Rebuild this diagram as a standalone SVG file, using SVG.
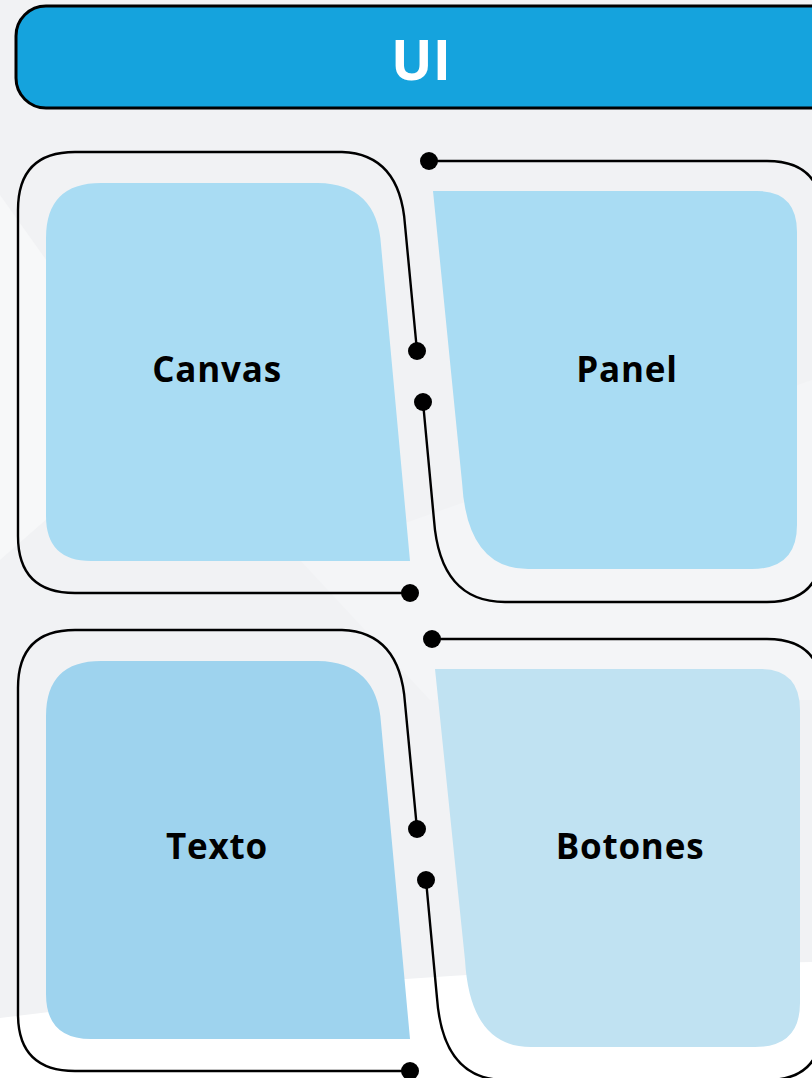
<svg xmlns="http://www.w3.org/2000/svg" width="812" height="1078" viewBox="0 0 812 1078">
  <defs>
    <style>
      .outline{fill:none;stroke:#000;stroke-width:2.4;stroke-linejoin:round}
      .dot{fill:#000}
      .lbl{font-family:"Open Sans","Noto Sans","Liberation Sans",sans-serif;font-weight:bold;font-size:35px;letter-spacing:0.8px;fill:#000;text-anchor:middle}
      .title{font-family:"Open Sans","Noto Sans","Liberation Sans",sans-serif;font-weight:bold;font-size:55px;fill:#fff;text-anchor:middle}
    </style>
  </defs>
  <!-- background -->
  <rect x="0" y="0" width="812" height="1078" fill="#f1f2f4"/>
  <path d="M0,195 L160,420 L0,560 Z" fill="#f7f8f9"/>
  <path d="M300,560 L812,380 L812,700 L430,700 Z" fill="#f4f5f7"/>
  <path d="M0,1018 Q400,968 812,962 V1078 H0 Z" fill="#ffffff"/>

  <!-- header -->
  <g id="header">
    <rect x="16" y="6" width="830" height="102" rx="30" fill="#15a3dd" stroke="#000" stroke-width="3"/>
    <text class="title" x="421" y="80">UI</text>
  </g>

  <!-- connectors -->
  <g id="connectors">
    <path class="outline" d="M410,593 H75 Q18,593 18,536 V210 Q18,152 75,152 H342 Q400,154 405,225 L417,351"/>
    <path class="outline" d="M429,161 H767 Q822,161 822,216 V546 Q822,602 767,602 H505 Q440,602 434,520 L423,402"/>
    <path class="outline" d="M410,1071 H75 Q18,1071 18,1014 V688 Q18,630 75,630 H342 Q400,632 405,703 L417,829"/>
    <path class="outline" d="M432,639 H767 Q822,639 822,694 V1024 Q822,1080 767,1080 H505 Q443,1080 437,998 L426,880"/>
    <circle class="dot" cx="429" cy="161" r="9"/>
    <circle class="dot" cx="417" cy="351" r="9"/>
    <circle class="dot" cx="423" cy="402" r="9"/>
    <circle class="dot" cx="410" cy="593" r="9"/>
    <circle class="dot" cx="432" cy="639" r="9"/>
    <circle class="dot" cx="417" cy="829" r="9"/>
    <circle class="dot" cx="426" cy="880" r="9"/>
    <circle class="dot" cx="410" cy="1071" r="9"/>
  </g>

  <g id="canvas">
    <path d="M101,183 H318 Q377,184 381,245 L410,561 H91 Q46,561 46,516 V238 Q46,183 101,183 Z" fill="#a9dcf3"/>
    <text class="lbl" x="217" y="382">Canvas</text>
  </g>
  <g id="panel">
    <path d="M433,191 H757 Q797,191 797,232 V525 Q797,569 752,569 H528 Q467,569 462,482 Z" fill="#a9dcf3"/>
    <text class="lbl" x="627" y="382">Panel</text>
  </g>
  <g id="texto">
    <path d="M101,661 H318 Q377,662 381,723 L410,1039 H91 Q46,1039 46,994 V716 Q46,661 101,661 Z" fill="#9ed3ee"/>
    <text class="lbl" x="217" y="859">Texto</text>
  </g>
  <g id="botones">
    <path d="M435,669 H760 Q800,669 800,710 V1003 Q800,1047 755,1047 H531 Q470,1047 465,960 Z" fill="#c0e2f2"/>
    <text class="lbl" x="630" y="859">Botones</text>
  </g>
</svg>
